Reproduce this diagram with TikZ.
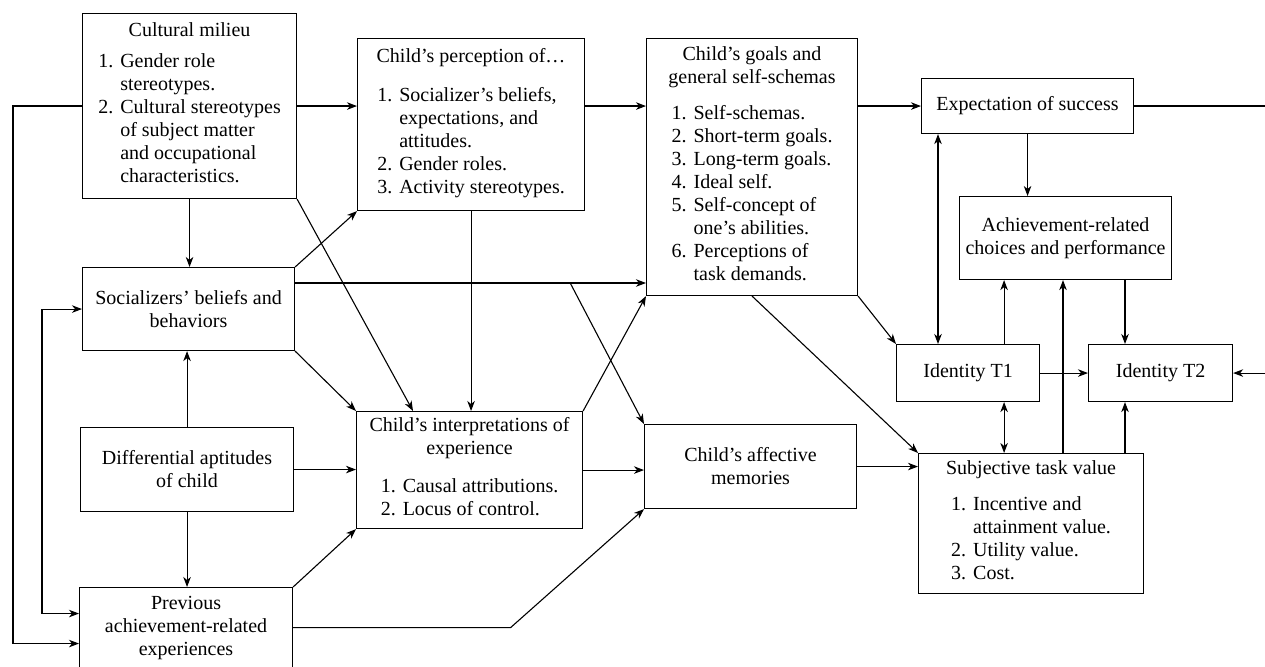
\documentclass[tikz,border=0pt]{standalone}
\usepackage{fontspec}
\setmainfont{Liberation Serif}
\usetikzlibrary{arrows.meta,calc}
\tikzset{
  box/.style={draw, line width=1.1pt, inner sep=3pt, align=center, anchor=north west},
  arr/.style={line width=1.1pt, -{Stealth[length=10pt,width=7.5pt,inset=3pt]}},
  dblarr/.style={line width=1.1pt, {Stealth[length=10pt,width=7.5pt,inset=3pt]}-{Stealth[length=10pt,width=7.5pt,inset=3pt]}},
  plain/.style={line width=1.1pt},
}
\newcommand{\boxfont}{\fontsize{20}{23}\selectfont}
\newcommand{\numlist}[1]{\begin{tabular}{@{}r@{\hspace{7pt}}l@{}}#1\end{tabular}}

\begin{document}
\begin{tikzpicture}[x=1pt, y=-1pt, every node/.style={font=\boxfont}]
  \useasboundingbox (0,0) rectangle (1265,666);
  % boxes on the left
  \node[box, minimum width=214pt, minimum height=185pt] (milieu)      at (82,13)  {Cultural milieu\\[13pt]
    \numlist{1. & Gender role\\ & stereotypes.\\ 2. & Cultural stereotypes\\ & of subject matter\\ & and occupational\\ & characteristics.}};
  \node[box, minimum width=212pt, minimum height=83pt]  (socializers) at (82,267) {Socializers’ beliefs and\\behaviors};
  \node[box, minimum width=213pt, minimum height=84pt]  (aptitudes)   at (80,427) {Differential aptitudes\\of child};
  \node[box, minimum width=213pt, minimum height=80pt]  (experiences) at (79,587) {Previous\\achievement-related\\experiences};
  % boxes in the middle
  \node[box, minimum width=227pt, minimum height=172pt] (perception)      at (357,38)  {Child’s perception of…\\[17pt]
    \numlist{1. & Socializer’s beliefs,\\ & expectations, and\\ & attitudes.\\ 2. & Gender roles.\\ 3. & Activity stereotypes.}};
  \node[box, minimum width=226pt, minimum height=117pt] (interpretations) at (356,411) {Child’s interpretations of\\experience\\[16pt]
    \numlist{1. & Causal attributions.\\ 2. & Locus of control.}};
  \node[box, minimum width=211pt, minimum height=257pt] (goals)    at (646,38)  {Child’s goals and\\general self-schemas\\[14pt]
    \numlist{1. & Self-schemas.\\ 2. & Short-term goals.\\ 3. & Long-term goals.\\ 4. & Ideal self.\\ 5. & Self-concept of\\ & one’s abilities.\\ 6. & Perceptions of\\ & task demands.}};
  \node[box, minimum width=212pt, minimum height=84pt]  (memories) at (644,424) {Child’s affective\\memories};
  % boxes on the right
  \node[box, minimum width=212pt, minimum height=55pt]  (expectation) at (921,78)   {Expectation of success};
  \node[box, minimum width=212pt, minimum height=83pt]  (choices)     at (959,196)  {Achievement-related\\choices and performance};
  \node[box, minimum width=143pt, minimum height=57pt]  (identityone) at (896,344)  {Identity T1};
  \node[box, minimum width=144pt, minimum height=57pt]  (identitytwo) at (1088,344) {Identity T2};
  \node[box, minimum width=225pt, minimum height=140pt] (taskvalue)   at (918,453)  {Subjective task value\\[15pt]
    \numlist{1. & Incentive and\\ & attainment value.\\ 2. & Utility value.\\ 3. & Cost.}};
  % arrows from the cultural milieu
  \draw[arr] (milieu.east) -- (milieu.east -| perception.west);
  \draw[arr] (milieu.south) -- (milieu.south |- socializers.north);
  \draw[arr] (milieu.south east) -- ([xshift=57pt]interpretations.north west);
  \draw[arr] (milieu.west) -- ++(-69,0) |- ([yshift=-16pt]experiences.west);
  % arrows from the socializers
  \coordinate (socgoals)  at ([yshift=-16pt]socializers.north east);
  \coordinate (socmemory) at ($(socgoals)!0.784!(socgoals -| goals.west)$);
  \draw[arr] (socgoals) -- (socgoals -| goals.west);
  \draw[arr] (socmemory) -- (memories.north west);
  \draw[arr] (socializers.north east) -- (perception.south west);
  \draw[arr] (socializers.south east) -- (interpretations.north west);
  \draw[dblarr] (socializers.west) -- ++(-40,0) |- ([yshift=14pt]experiences.west);
  % arrows from the aptitudes and the experiences
  \draw[arr] (aptitudes.north) -- (aptitudes.north |- socializers.south);
  \draw[arr] (aptitudes.south) -- (aptitudes.south |- experiences.north);
  \draw[arr] (aptitudes.east) -- (aptitudes.east -| interpretations.west);
  \draw[arr] (experiences.north east) -- (interpretations.south west);
  \coordinate (expbend) at ($(experiences.east)!0.62!(experiences.east -| memories.west)$);
  \draw[arr] (experiences.east) -- (expbend) -- (memories.south west);
  % arrows in the middle
  \draw[arr] (milieu.east -| perception.east) -- (milieu.east -| goals.west);
  \draw[arr] (perception.south) -- (perception.south |- interpretations.north);
  \draw[arr] (interpretations.north east) -- (goals.south west);
  \draw[arr] (interpretations.east) -- (interpretations.east -| memories.west);
  \draw[arr] (milieu.east -| goals.east) -- (milieu.east -| expectation.west);
  \draw[arr] (goals.south east) -- (identityone.north west);
  \draw[arr] (goals.south) -- (taskvalue.north west);
  \draw[arr] (memories.east) -- (memories.east -| taskvalue.west);
  % arrows on the right
  \coordinate (expid)     at ([xshift=42pt]identityone.north west);
  \coordinate (idchoice)  at ([xshift=-36pt]identityone.north east);
  \coordinate (valchoice) at ([xshift=145pt]taskvalue.north west);
  \coordinate (choiceid)  at ([xshift=37pt]identitytwo.north west);
  \coordinate (rightin)   at ([xshift=33pt]identitytwo.east);
  \coordinate (rightout)  at ([xshift=132pt]expectation.east);
  \draw[dblarr] (expid |- expectation.south) -- (expid);
  \draw[arr] (expectation.south) -- (expectation.south |- choices.north);
  \draw[arr] (idchoice) -- (idchoice |- choices.south);
  \draw[dblarr] (idchoice |- identityone.south) -- (idchoice |- taskvalue.north);
  \draw[arr] (valchoice) -- (valchoice |- choices.south);
  \draw[arr] (choiceid |- choices.south) -- (choiceid);
  \draw[arr] (choiceid |- taskvalue.north) -- (choiceid |- identitytwo.south);
  \draw[arr] (identityone.east) -- (identitytwo.west);
  \draw[arr] (rightin) -- (identitytwo.east);
  \draw[plain] (expectation.east) -- (rightout);
\end{tikzpicture}
\end{document}
